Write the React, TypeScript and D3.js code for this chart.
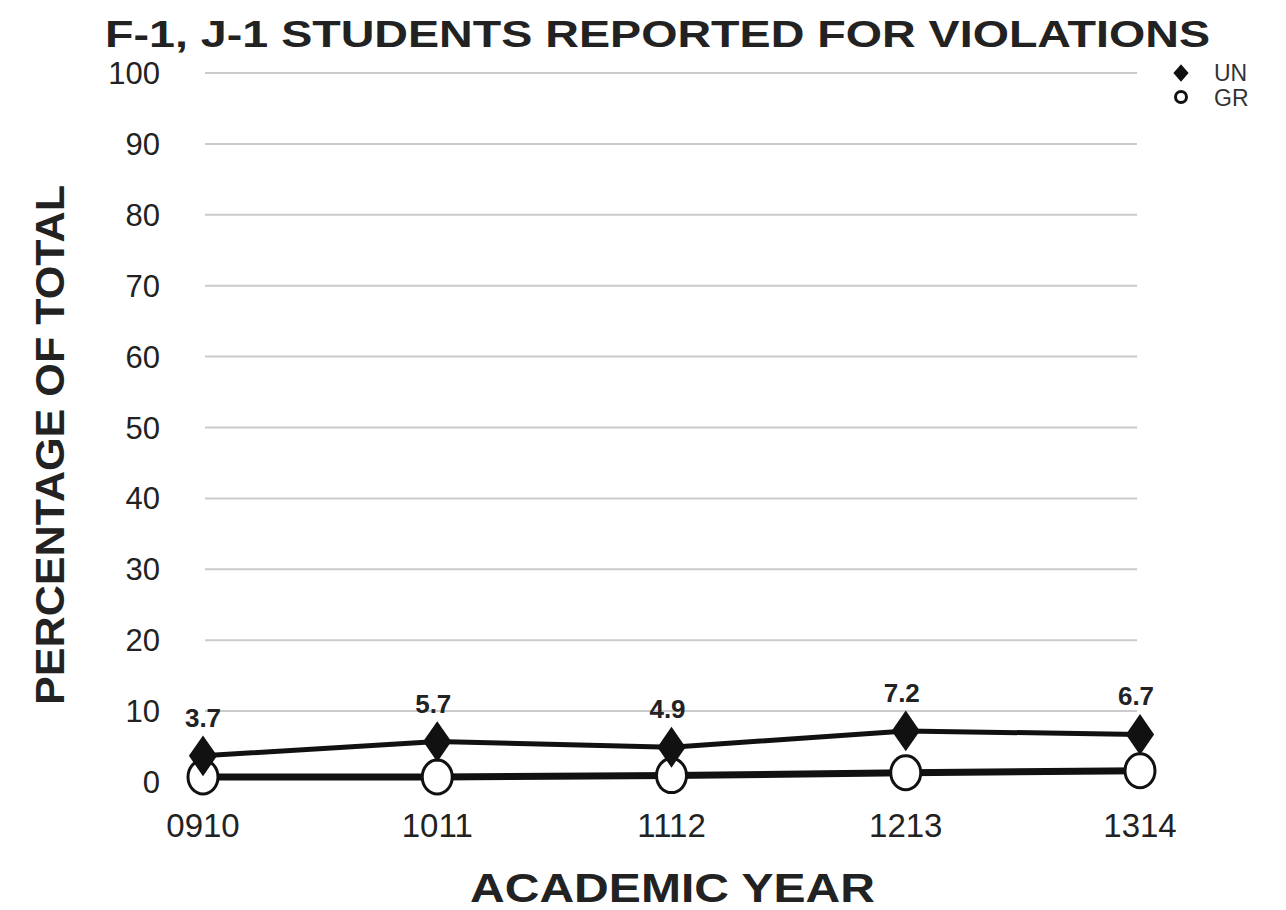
import * as d3 from "d3";

const width = 1286;
const height = 910;
const margin = { top: 73, right: 146, bottom: 128, left: 203 };

const years = ["0910", "1011", "1112", "1213", "1314"];
const unValues = [3.7, 5.7, 4.9, 7.2, 6.7];
const grValues = [0.7, 0.7, 0.9, 1.3, 1.6];
const yTicks = [0, 10, 20, 30, 40, 50, 60, 70, 80, 90, 100];

const font = "'Liberation Sans', Arial, Helvetica, sans-serif";

const App = () => {
  const x = d3
    .scalePoint<string>()
    .domain(years)
    .range([margin.left, width - margin.right]);
  const y = d3
    .scaleLinear()
    .domain([0, 100])
    .range([height - margin.bottom, margin.top]);

  const line = d3
    .line<number>()
    .x((_, i) => x(years[i]) as number)
    .y((d) => y(d));

  const diamond = d3.symbol(d3.symbolDiamond, 480)() ?? "";
  const smallDiamond = d3.symbol(d3.symbolDiamond, 90)() ?? "";

  return (
    <svg
      width={width}
      height={height}
      style={{ position: "absolute", left: 0, top: 0, background: "#fff" }}
      fontFamily={font}
    >
      <text
        x={105}
        y={47}
        fontSize={37}
        fontWeight="bold"
        textLength={1105}
        lengthAdjust="spacingAndGlyphs"
        fill="#222"
      >
        F-1, J-1 STUDENTS REPORTED FOR VIOLATIONS
      </text>

      {/* grid */}
      {yTicks.map((t) => (
        <g key={t}>
          {t > 0 && (
            <line
              x1={margin.left + 2}
              x2={width - margin.right - 3}
              y1={y(t)}
              y2={y(t)}
              stroke="#cbcbcb"
              strokeWidth={2}
            />
          )}
          <text
            x={160}
            y={y(t) + 11}
            fontSize={31}
            textAnchor="end"
            fill="#222"
          >
            {t}
          </text>
        </g>
      ))}

      {/* GR series */}
      <path d={line(grValues) ?? undefined} fill="none" stroke="#111" strokeWidth={7} />
      {grValues.map((v, i) => (
        <ellipse
          key={years[i]}
          cx={x(years[i])}
          cy={y(v)}
          rx={15}
          ry={17}
          fill="#fff"
          stroke="#111"
          strokeWidth={3}
        />
      ))}

      {/* UN series */}
      <path d={line(unValues) ?? undefined} fill="none" stroke="#111" strokeWidth={5} />
      {unValues.map((v, i) => (
        <g key={years[i]}>
          <path
            d={diamond}
            transform={`translate(${x(years[i])},${y(v)}) scale(1.2,1)`}
            fill="#111"
          />
          <text
            x={(x(years[i]) as number) + (i === 0 ? 0 : -4)}
            y={y(v) - 29}
            fontSize={26}
            fontWeight="bold"
            textAnchor="middle"
            fill="#222"
          >
            {v.toFixed(1)}
          </text>
        </g>
      ))}

      {/* x tick labels */}
      {years.map((yr) => (
        <text
          key={yr}
          x={x(yr)}
          y={837}
          fontSize={33}
          textAnchor="middle"
          fill="#222"
        >
          {yr}
        </text>
      ))}

      <text
        x={470}
        y={902}
        fontSize={40}
        fontWeight="bold"
        textLength={405}
        lengthAdjust="spacingAndGlyphs"
        fill="#222"
      >
        ACADEMIC YEAR
      </text>
      <text
        transform="translate(64,705) rotate(-90)"
        fontSize={40}
        fontWeight="bold"
        textLength={520}
        lengthAdjust="spacingAndGlyphs"
        fill="#222"
      >
        PERCENTAGE OF TOTAL
      </text>

      {/* legend */}
      <path d={smallDiamond} transform="translate(1181,73) scale(1.5,1)" fill="#111" />
      <text x={1214} y={81} fontSize={23} fill="#333">UN</text>
      <circle cx={1181} cy={97} r={5.5} fill="#fff" stroke="#111" strokeWidth={3} />
      <text x={1214} y={106} fontSize={23} fill="#333">GR</text>
    </svg>
  );
};

export default App;
